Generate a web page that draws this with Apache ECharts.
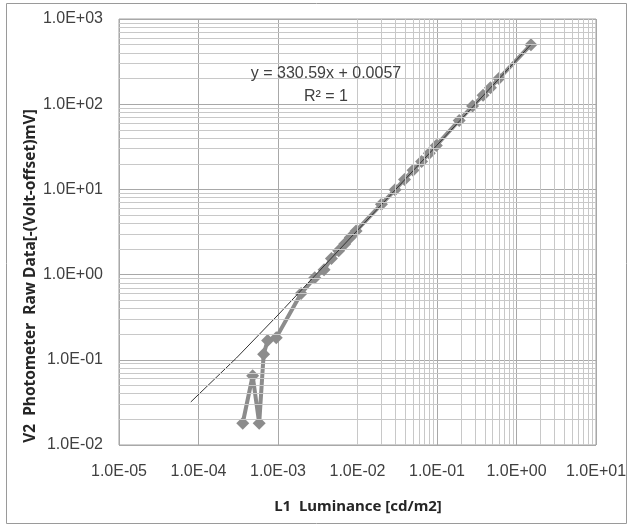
<!DOCTYPE html>
<html>
<head>
<meta charset="utf-8">
<script src="https://cdn.jsdelivr.net/npm/echarts@6/dist/echarts.min.js"></script>
<style>
  html, body { margin: 0; padding: 0; background: #fff; }
  #chart { width: 633px; height: 528px; }
</style>
</head>
<body>
<div id="chart"></div>
<script>
// measured series (L1 luminance vs V2 raw data)
var luminance = [3.6e-4, 4.8e-4, 5.8e-4, 6.6e-4, 7.4e-4, 9.5e-4, 1.95e-3, 2.9e-3, 3.8e-3, 4.7e-3,
  5.8e-3, 6.9e-3, 8.1e-3, 9.6e-3, 0.020, 0.0297, 0.039, 0.050, 0.064, 0.080, 0.098,
  0.19, 0.28, 0.38, 0.47, 0.60, 1.52]
var rawData = [0.018, 0.065, 0.018, 0.116, 0.168, 0.182, 0.60, 0.92, 1.14, 1.55,
  1.91, 2.29, 2.72, 3.25, 6.7, 9.9, 13.1, 16.8, 21.3, 26.6, 32.8,
  64.5, 95, 127, 156, 200, 500]

// linear trendline y = 330.59x + 0.0057, as drawn
var trendX = [8e-5, 3e-4, 1e-3, 1e-2, 1e-1, 1.52]
var trendY = [0.032, 0.105, 0.336, 3.31, 33.07, 502]

var xTickLabels = ['1.0E-05', '1.0E-04', '1.0E-03', '1.0E-02', '1.0E-01', '1.0E+00', '1.0E+01']
var yTickLabels = ['1.0E-02', '1.0E-01', '1.0E+00', '1.0E+01', '1.0E+02', '1.0E+03']

var equationText = 'y = 330.59x + 0.0057'
var r2Text = 'R\u00b2 = 1'

var chart = echarts.init(document.getElementById('chart'))

function zip (xs, ys) {
  return xs.map(function (x, i) { return [x, ys[i]] })
}

// minor grid lines at 2..9 within each decade
var minorLines = []
for (var e = -5; e < 1; e++) {
  for (var m = 2; m <= 9; m++) minorLines.push({ xAxis: m * Math.pow(10, e) })
}
for (var e2 = -2; e2 < 3; e2++) {
  for (var m2 = 2; m2 <= 9; m2++) minorLines.push({ yAxis: m2 * Math.pow(10, e2) })
}

var tickFont = {
  color: '#404040',
  fontSize: 16,
  fontFamily: 'Liberation Sans'
}

var option = {
  animation: false,
  grid: {
    left: 119,
    top: 19,
    width: 477,
    height: 426,
    containLabel: false,
    outerBoundsMode: 'none',
    show: true,
    borderColor: '#a0a0a0',
    borderWidth: 1,
    backgroundColor: '#fff'
  },
  xAxis: {
    type: 'log',
    logBase: 10,
    min: 1e-5,
    max: 10,
    axisLine: { show: false },
    axisTick: { show: false },
    splitLine: { show: true, lineStyle: { color: '#a8a8a8', width: 1 } },
    axisLabel: Object.assign({
      margin: 19,
      formatter: function (v) {
        return xTickLabels[Math.round(Math.log10(v)) + 5]
      }
    }, tickFont)
  },
  yAxis: {
    type: 'log',
    logBase: 10,
    min: 0.01,
    max: 1000,
    axisLine: { show: false },
    axisTick: { show: false },
    splitLine: { show: true, lineStyle: { color: '#a8a8a8', width: 1 } },
    axisLabel: Object.assign({
      margin: 16,
      formatter: function (v) {
        return yTickLabels[Math.round(Math.log10(v)) + 2]
      }
    }, tickFont)
  },
  series: [{
    type: 'line',
    data: [],
    silent: true,
    z: 1,
    markLine: {
      silent: true,
      symbol: 'none',
      animation: false,
      label: { show: false },
      lineStyle: { color: '#c8c8c8', width: 1, type: 'solid' },
      data: minorLines
    }
  }, {
    type: 'line',
    data: zip(luminance, rawData),
    symbol: 'diamond',
    symbolSize: 13,
    z: 3,
    itemStyle: { color: '#8c8c8c' },
    lineStyle: { color: '#8c8c8c', width: 4 }
  }, {
    type: 'line',
    data: zip(trendX, trendY),
    symbol: 'none',
    z: 4,
    lineStyle: { color: '#333', width: 1 }
  }],
  graphic: [{
    type: 'rect',
    shape: { x: 6.5, y: 3.5, width: 620, height: 520 },
    style: { fill: null, stroke: '#9a9a9a', lineWidth: 1 },
    z: -1
  }, {
    type: 'text',
    x: 326,
    y: 74,
    style: {
      text: equationText,
      font: '16px "Liberation Sans"',
      fill: '#404040',
      align: 'center',
      verticalAlign: 'middle'
    },
    z: 10
  }, {
    type: 'text',
    x: 326,
    y: 97,
    style: {
      text: r2Text,
      font: '16px "Liberation Sans"',
      fill: '#404040',
      align: 'center',
      verticalAlign: 'middle'
    },
    z: 10
  }, {
    type: 'text',
    x: 358,
    y: 507,
    style: {
      text: 'L1  Luminance [cd/m2]',
      font: 'bold 15px "Noto Sans"',
      fill: '#262626',
      align: 'center',
      verticalAlign: 'middle'
    }
  }, {
    type: 'text',
    x: 31,
    y: 276,
    rotation: Math.PI / 2,
    style: {
      text: 'V2  Photometer  Raw Data[-(Volt-offset)mV]',
      font: 'bold 15.5px "Noto Sans"',
      fill: '#262626',
      align: 'center',
      verticalAlign: 'middle'
    }
  }]
}
chart.setOption(option)
</script>
</body>
</html>
